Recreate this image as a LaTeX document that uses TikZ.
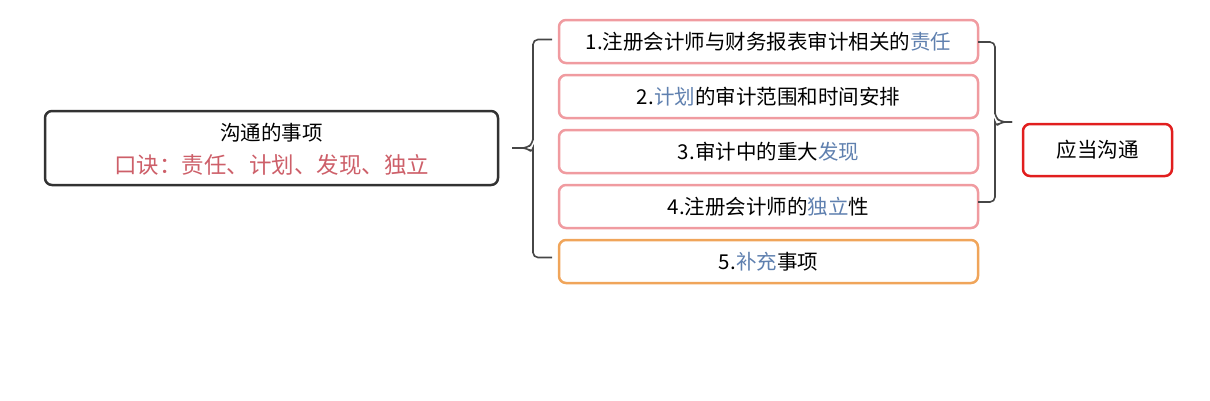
\documentclass[tikz,border=0pt]{standalone}
\usepackage{fontspec}
\setmainfont{Noto Sans CJK SC}
\usetikzlibrary{positioning,calc}
\definecolor{mainborder}{RGB}{50,50,50}
\definecolor{itempink}{RGB}{240,155,160}
\definecolor{itemorange}{RGB}{240,165,90}
\definecolor{answerred}{RGB}{225,30,30}
\definecolor{hlblue}{RGB}{95,128,175}
\definecolor{mnemored}{RGB}{205,95,105}
\definecolor{bracegray}{RGB}{70,70,70}

\begin{document}
\begin{tikzpicture}[
	x=1pt, y=-1pt,
	box/.style={draw, line width=2.5pt, rounded corners=7pt, inner sep=0pt},
	itembox/.style={box, draw=itempink, minimum width=419pt, minimum height=43pt},
	bracket/.style={draw=bracegray, line width=1.6pt, rounded corners=5pt},
	node distance=12pt,
	every node/.style={outer sep=0pt, font=\fontsize{20.5}{22}\selectfont},
]
\useasboundingbox (0,0) rectangle (1210,400);
% Left: the topic box with its mnemonic below the title.
\node[box, draw=mainborder, minimum width=453pt, minimum height=74pt] at (271.5,148) (topic) {};
\node at ($(topic.center)+(0,-15)$) (topicbox) {沟通的事项};
\node[font=\fontsize{22.5}{24}\selectfont, text=mnemored] at ($(topic.center)+(0,17)$) (mnemo)
	{口诀：责任、计划、发现、独立};
% Middle: the five items.
\node[itembox] at (768.5,41.5) (item1) {1.注册会计师与财务报表审计相关的\textcolor{hlblue}{责任}};
\node[itembox, below=of item1] (item2) {2.\textcolor{hlblue}{计划}的审计范围和时间安排};
\node[itembox, below=of item2] (item3) {3.审计中的重大\textcolor{hlblue}{发现}};
\node[itembox, below=of item3] (item4) {4.注册会计师的\textcolor{hlblue}{独立}性};
\node[itembox, draw=itemorange, below=of item4] (item5) {5.\textcolor{hlblue}{补充}事项};
% Right: what is to be done.
\node[box, draw=answerred, minimum width=149pt, minimum height=52pt] at (1097.5,150) (answer) {应当沟通};
% Left brace: topic -> items 1..5.
\coordinate (ltip) at ($(topic.east)+(14,0)$);
\coordinate (ltop) at ($(item1.west)+(-7,-2)$);
\coordinate (lbot) at ($(item5.west)+(-7,-4)$);
\draw[bracket] (ltop) -- ++(-19,0) |- ($(ltip)+(21,-5)$) -- ($(ltip)+(15,0)$) -- (ltip);
\draw[bracket] (lbot) -- ++(-19,0) |- ($(ltip)+(21,5)$) -- ($(ltip)+(15,0)$) -- (ltip);
% Right brace: items 1..4 -> answer.
\coordinate (rtop) at ($(item1.east)+(0,0.5)$);
\coordinate (rbot) at ($(item4.east)+(0,-4.5)$);
\coordinate (rtip) at ($($(rtop)!0.5!(rbot)$)+(34,0)$);
\draw[bracket] (rtop) -- ++(17,0) |- ($(rtip)+(-17,-5)$) -- ($(rtip)+(-11,0)$) -- (rtip);
\draw[bracket] (rbot) -- ++(17,0) |- ($(rtip)+(-17,5)$) -- ($(rtip)+(-11,0)$) -- (rtip);
\end{tikzpicture}
\end{document}
